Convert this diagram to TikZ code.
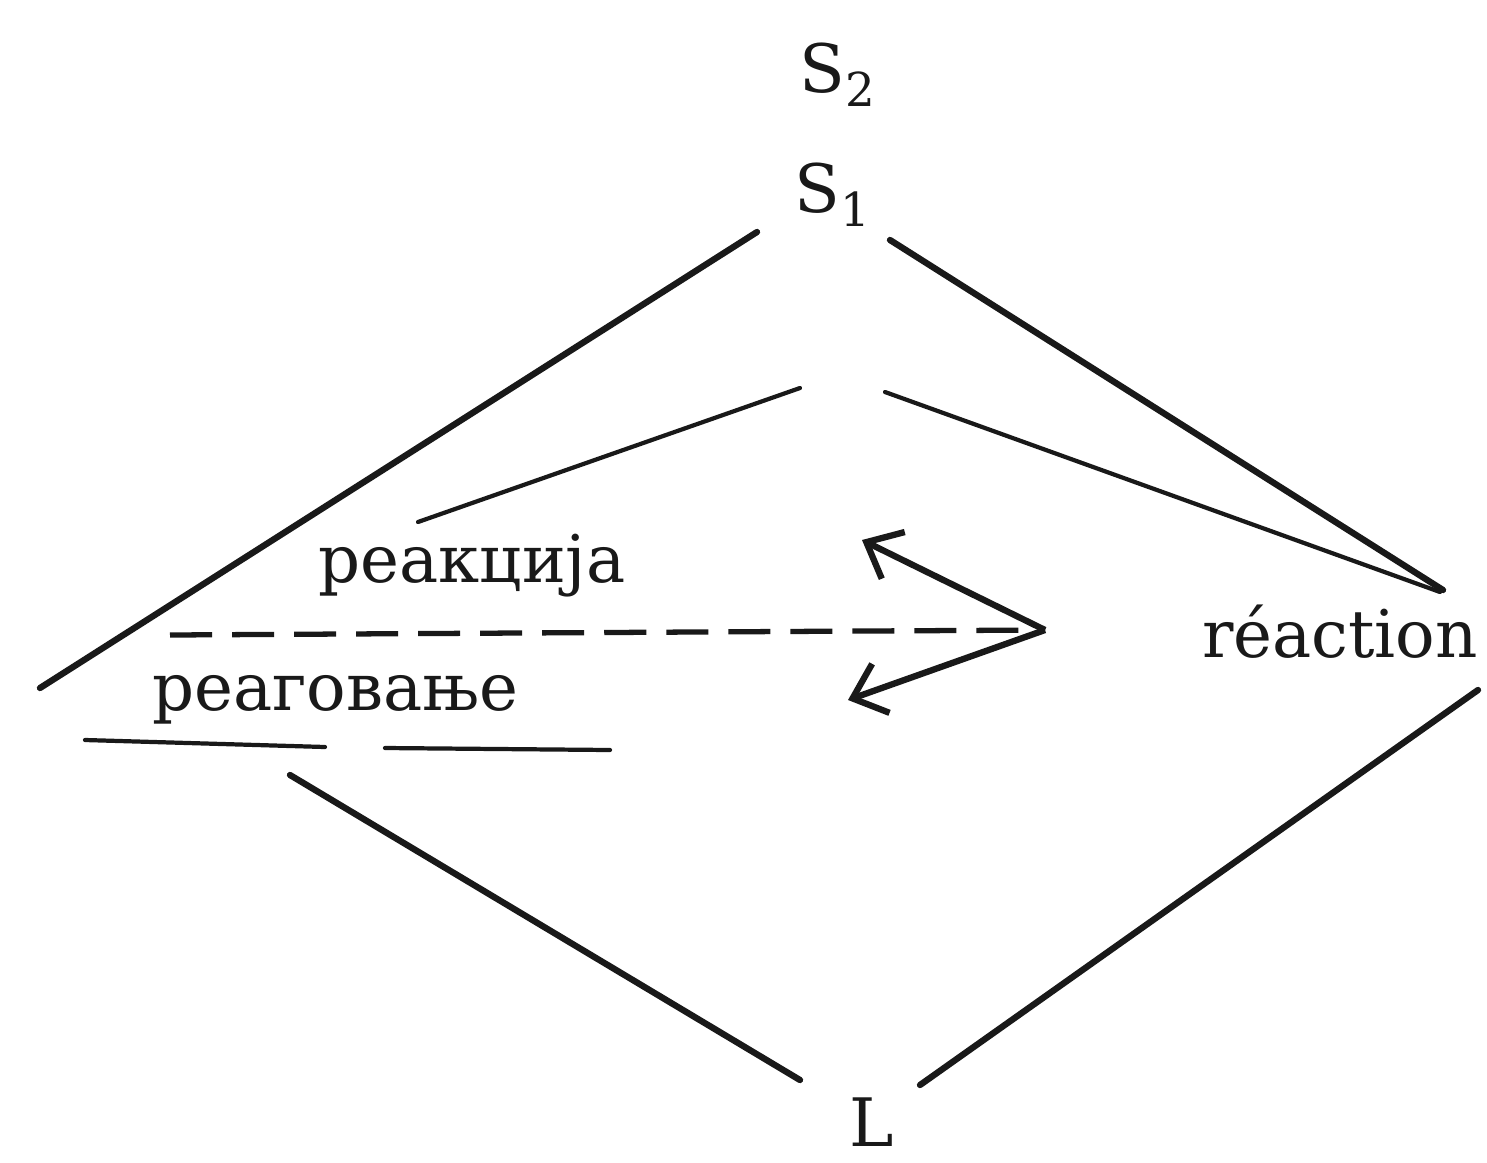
\documentclass[tikz,border=0pt]{standalone}
\usepackage{fontspec}
\setmainfont{DejaVu Serif}
\usepackage{tikz}
\usetikzlibrary{arrows.meta, positioning, calc}
\definecolor{myink}{RGB}{25,25,25}
\tikzset{
  lbl/.style={font=\fontsize{18.7}{22}\selectfont, text=myink, inner sep=1pt},
  biglbl/.style={font=\fontsize{19}{22}\selectfont, text=myink, inner sep=1pt},
  heavy/.style={line width=1.8pt, color=myink, line cap=round},
  thin/.style={line width=1.2pt, color=myink, line cap=round},
  dashline/.style={line width=1.5pt, color=myink, dash pattern=on 0.42cm off 0.2cm},
  barb/.style={-{Straight Barb[length=0.3cm, width=0.52cm, line width=1.8pt]}, line width=1.8pt, color=myink}
}

\begin{document}
\begin{tikzpicture}[x=0.01cm, y=-0.01cm]
  \useasboundingbox (0,0) rectangle (1487,1163);

  % Labels
  \node[biglbl] (s2) at (838,75) {S\textsubscript{2}};
  \node[biglbl] (s1) at (833,195) {S\textsubscript{1}};
  \node[biglbl] (ll) at (872,1122) {L};
  \node[lbl] (reac) at (1340,632) {réaction};
  \node[lbl] (rkc) at (472,566) {реакција};
  \node[lbl] (rgv) at (335,700) {реаговање};

  % End points of the lines
  \coordinate (ol1) at (757,232);
  \coordinate (ol2) at (40,688);
  \coordinate (or1) at (890,240);
  \coordinate (or2) at (1443,590);
  \coordinate (il1) at (800,388);
  \coordinate (il2) at (418,522);
  \coordinate (ir1) at (885,392);
  \coordinate (ir2) at (1440,592);
  \coordinate (bl1) at (290,775);
  \coordinate (bl2) at (800,1080);
  \coordinate (br1) at (920,1085);
  \coordinate (br2) at (1478,690);
  \coordinate (vtx) at (1045,630);
  \coordinate (up) at (862,540);
  \coordinate (dn) at (848,700);
  \coordinate (ds) at (170,635);
  \coordinate (ua1) at (85,740);
  \coordinate (ua2) at (325,747);
  \coordinate (ub1) at (385,748);
  \coordinate (ub2) at (610,750);

  % Outer rhombus
  \draw[heavy] (ol1) -- (ol2);
  \draw[heavy] (or1) -- (or2);
  \draw[heavy] (bl1) -- (bl2);
  \draw[heavy] (br1) -- (br2);

  % Inner lines
  \draw[thin] (il1) -- (il2);
  \draw[thin] (ir1) -- (ir2);

  % Dashed line and arrows
  \draw[dashline] (ds) -- (vtx);
  \draw[barb] (vtx) -- (up);
  \draw[barb] (vtx) -- (dn);

  % Underline
  \draw[thin] (ua1) -- (ua2);
  \draw[thin] (ub1) -- (ub2);
\end{tikzpicture}
\end{document}
